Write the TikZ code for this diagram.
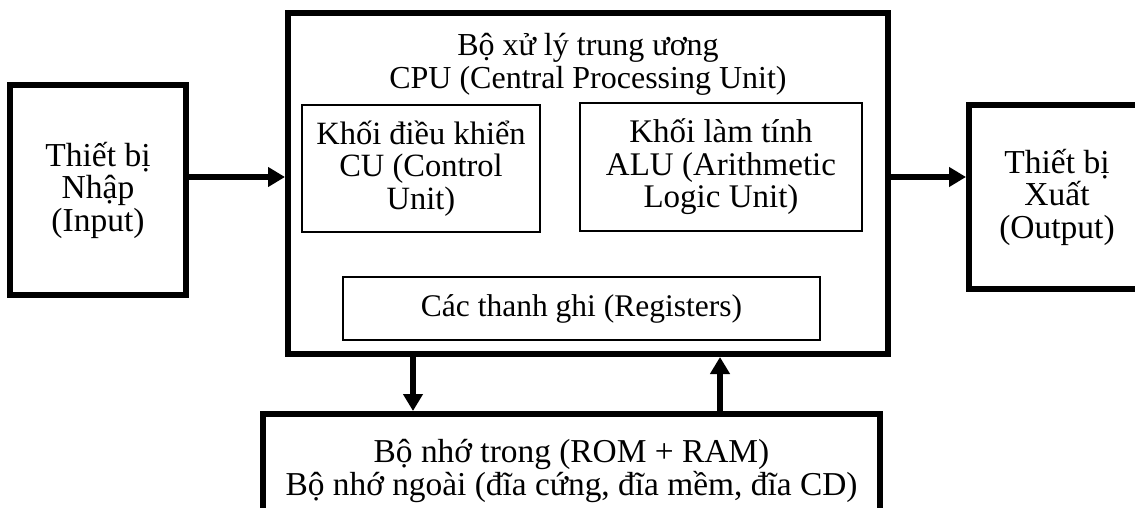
\documentclass[tikz,border=0pt]{standalone}
\usepackage{fontspec}
\setmainfont{Liberation Serif}
\usetikzlibrary{arrows.meta}
\begin{document}
\begin{tikzpicture}[x=1pt,y=-1pt,
  txt/.style={align=center,font=\fontsize{32.5}{32.5}\selectfont,inner sep=0pt},
  thickbox/.style={txt,draw,line width=6pt},
  thinbox/.style={txt,draw,line width=1.7pt},
  arr/.style={line width=6pt,-{Triangle[length=17pt,width=19pt]}}]
\useasboundingbox (0,0) rectangle (1135,508);
\clip (0,0) rectangle (1135,508);
\fill[white] (0,0) rectangle (1135,508);

\node[thickbox,minimum width=176pt,minimum height=210pt,font=\fontsize{33.5}{32.5}\selectfont] (inp) at (98,190) {Thiết bị\\Nhập\\(Input)};
\node[thickbox,minimum width=600pt,minimum height=341pt] (cpu) at (588,183.5) {};
\node[txt,font=\fontsize{32}{33}\selectfont] (title) at (588,64) {Bộ xử lý trung ương\\CPU (Central Processing Unit)};
\node[thickbox,minimum width=176pt,minimum height=184pt,font=\fontsize{33.5}{32.5}\selectfont] (out) at (1057,197) {Thiết bị\\Xuất\\(Output)};
\node[thinbox,minimum width=238pt,minimum height=127pt] (cu) at (421,168.5) {Khối điều khiển\\CU (Control\\Unit)};
\node[thinbox,minimum width=282pt,minimum height=128pt,font=\fontsize{33}{32.5}\selectfont] (alu) at (721,167) {Khối làm tính\\ALU (Arithmetic\\Logic Unit)};
\node[thinbox,minimum width=477pt,minimum height=63pt,font=\fontsize{31.5}{32}\selectfont] (reg) at (581.5,308.5) {Các thanh ghi (Registers)};
\node[thickbox,minimum width=617pt,minimum height=114pt,font=\fontsize{33.4}{31}\selectfont] (mem) at (571.5,471) {Bộ nhớ trong (ROM + RAM)\\Bộ nhớ ngoài (đĩa cứng, đĩa mềm, đĩa CD)};

\coordinate (ya) at (0,177);
\coordinate (xd) at (413,0);
\coordinate (xu) at (720,0);
\draw[arr] (inp.east |- ya) -- (cpu.west |- ya);
\draw[arr] (cpu.east |- ya) -- (out.west |- ya);
\draw[arr] (cpu.south -| xd) -- (mem.north -| xd);
\draw[arr] (mem.north -| xu) -- (cpu.south -| xu);
\end{tikzpicture}
\end{document}
